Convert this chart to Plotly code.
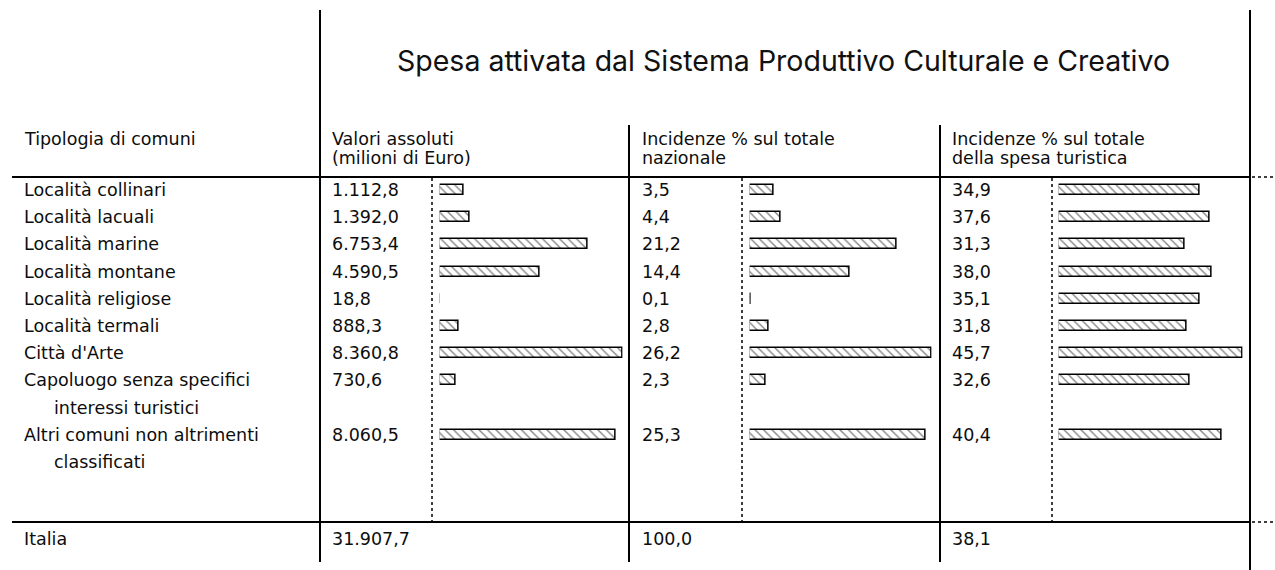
import plotly.graph_objects as go

# ---------------- data ----------------
categories = ["Località collinari", "Località lacuali", "Località marine", "Località montane",
              "Località religiose", "Località termali", "Città d'Arte",
              "Capoluogo senza specifici\ninteressi turistici",
              "Altri comuni non altrimenti\nclassificati"]
row_pos = [0, 1, 2, 3, 4, 5, 6, 7, 9]
valori_assoluti = [1112.8, 1392.0, 6753.4, 4590.5, 18.8, 888.3, 8360.8, 730.6, 8060.5]
inc_nazionale = [3.5, 4.4, 21.2, 14.4, 0.1, 2.8, 26.2, 2.3, 25.3]
inc_turistica = [34.9, 37.6, 31.3, 38.0, 35.1, 31.8, 45.7, 32.6, 40.4]
totale_label = "Italia"
totali = [31907.7, 100.0, 38.1]
title = "Spesa attivata dal Sistema Produttivo Culturale e Creativo"
col_headers = [["Tipologia di comuni"],
               ["Valori assoluti", "(milioni di Euro)"],
               ["Incidenze % sul totale", "nazionale"],
               ["Incidenze % sul totale", "della spesa turistica"]]

W, H = 1275, 570
FONT = "DejaVu Sans"
FS = 17.5


def it(v):
    s = f"{v:,.1f}"
    return s.replace(",", "X").replace(".", ",").replace("X", ".")


def px(x):
    return x / W


def py(y):
    return 1 - y / H


# y axis in "row" units: pixel = 190 + 27.2 * row
ROW0, STEP = 190.0, 27.2
y_range = [(H - ROW0) / STEP, (0 - ROW0) / STEP]

fig = go.Figure()

series = [valori_assoluti, inc_nazionale, inc_turistica]
bar_dom = [(439.6, 622.6), (749.6, 931.6), (1058.6, 1242.6)]
axes = ["x", "x2", "x3"]
for k, vals in enumerate(series):
    fig.add_trace(go.Bar(
        x=vals, y=row_pos, orientation="h", xaxis=axes[k], yaxis="y",
        width=0.37,
        marker=dict(color="white", line=dict(color="black", width=1.5),
                    pattern=dict(shape="\\", fgcolor="black", bgcolor="white",
                                 size=6, solidity=0.22)),
        showlegend=False, hoverinfo="skip"))

layout = dict(
    width=W, height=H, margin=dict(l=0, r=0, t=0, b=0),
    paper_bgcolor="white", plot_bgcolor="rgba(0,0,0,0)",
    font=dict(family=FONT, size=FS, color="#0d0d0d"),
    yaxis=dict(domain=[0, 1], range=y_range, visible=False, fixedrange=True),
    bargap=0,
)
for k, ax in enumerate(["xaxis", "xaxis2", "xaxis3"]):
    d0, d1 = bar_dom[k]
    layout[ax] = dict(domain=[px(d0), px(d1)], range=[0, max(series[k])],
                      visible=False, anchor="y")
fig.update_layout(**layout)

ann = []
# title
ann.append(dict(text=title, x=px(783), y=py(60), xref="paper", yref="paper",
                xanchor="center", yanchor="middle", showarrow=False,
                font=dict(size=28.5, family="Inter", color="#111")))
# headers
hx = [22, 330, 640, 950]
for k, lines in enumerate(col_headers):
    for j, line in enumerate(lines):
        ann.append(dict(text=line, x=px(hx[k]), y=py(139 + 19 * j), xref="paper", yref="paper",
                        xanchor="left", yanchor="middle", showarrow=False))
# rows
for cat, r, a, b, c in zip(categories, row_pos, valori_assoluti, inc_nazionale, inc_turistica):
    parts = cat.split("\n")
    for j, p in enumerate(parts):
        ann.append(dict(text=p, x=px(22 if j == 0 else 52), y=r + j, xref="paper", yref="y",
                        xanchor="left", yanchor="middle", showarrow=False))
    for xx, v in zip([330, 640, 950], [a, b, c]):
        ann.append(dict(text=it(v), x=px(xx), y=r, xref="paper", yref="y",
                        xanchor="left", yanchor="middle", showarrow=False))
# total row
ann.append(dict(text=totale_label, x=px(22), y=py(539), xref="paper", yref="paper",
                xanchor="left", yanchor="middle", showarrow=False))
for xx, v in zip([330, 640, 950], totali):
    ann.append(dict(text=it(v), x=px(xx), y=py(539), xref="paper", yref="paper",
                    xanchor="left", yanchor="middle", showarrow=False))

shapes = []


def line(x0, y0, x1, y1, width=2, dash=None):
    d = dict(type="line", xref="paper", yref="paper", x0=px(x0), y0=py(y0), x1=px(x1), y1=py(y1),
             line=dict(color="black", width=width))
    if dash:
        d["line"]["dash"] = dash
    shapes.append(d)


# vertical solid
line(320, 10, 320, 562)
line(629, 125, 629, 562)
line(940, 125, 940, 562)
line(1250, 10, 1250, 570)
# horizontal
line(12, 177, 1250, 177)
line(12, 522, 1250, 522)
line(1252, 177, 1275, 177, width=1.5, dash="dot")
line(1252, 522, 1275, 522, width=1.5, dash="dot")
# dotted separators
for xx in [432, 742, 1052]:
    line(xx, 178, xx, 522, width=1.5, dash="dot")

fig.update_layout(annotations=ann, shapes=shapes)
fig.write_html("out.html", config={"displayModeBar": False},
               post_script="document.body.style.margin='0';document.body.style.overflow='hidden';")
